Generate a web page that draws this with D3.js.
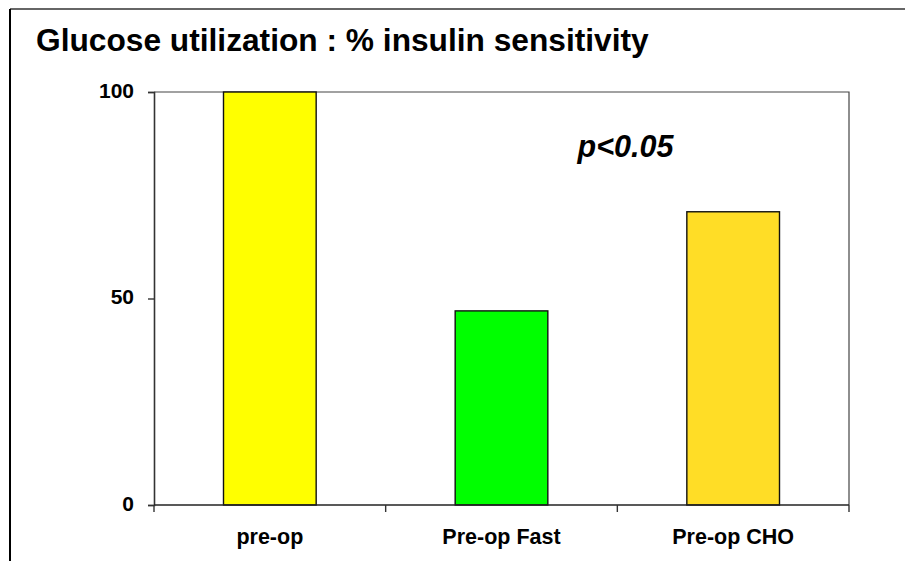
<!DOCTYPE html>
<html>
<head>
<meta charset="utf-8">
<script src="https://cdn.jsdelivr.net/npm/d3@7"></script>
<style>
  html, body { margin: 0; padding: 0; background: #fff; }
  svg { display: block; font-family: Arial, "Liberation Sans", sans-serif; }
</style>
</head>
<body>
<svg id="chart" width="905" height="561"></svg>
<script>
// Glucose utilization as % of pre-operative insulin sensitivity
const categories = ["pre-op", "Pre-op Fast", "Pre-op CHO"];
const values = [100, 47, 71];
const barColors = ["#FFFF00", "#00FF00", "#FFDD26"];
const yTicks = [0, 50, 100];
const titleText = "Glucose utilization : % insulin sensitivity";
const noteText = "p<0.05";

const svg = d3.select("#chart");
const plot = { left: 154, top: 92, right: 849, bottom: 505 };

// outer frame (only top and left edges fall inside the page)
svg.append("line").attr("x1", 10).attr("y1", 9).attr("x2", 905).attr("y2", 9)
  .attr("stroke", "#333").attr("stroke-width", 1.6);
svg.append("line").attr("x1", 10).attr("y1", 9).attr("x2", 10).attr("y2", 561)
  .attr("stroke", "#000").attr("stroke-width", 2);

svg.append("text").attr("x", 36).attr("y", 51)
  .attr("font-size", 31.7).attr("font-weight", "bold").attr("fill", "#000")
  .text(titleText);

const x = d3.scaleBand().domain(categories).range([plot.left, plot.right]).paddingInner(0).paddingOuter(0);
const y = d3.scaleLinear().domain([0, 100]).range([plot.bottom, plot.top]);

// plot area border (top and right)
svg.append("path")
  .attr("d", `M${plot.left},${plot.top}H${plot.right}V${plot.bottom}`)
  .attr("fill", "none").attr("stroke", "#444").attr("stroke-width", 1.2);

// bars
const barW = x.bandwidth() * 0.4;
svg.selectAll("rect.bar").data(categories).enter().append("rect")
  .attr("class", "bar")
  .attr("x", d => x(d) + (x.bandwidth() - barW) / 2)
  .attr("y", (d, i) => y(values[i]))
  .attr("width", barW)
  .attr("height", (d, i) => y(0) - y(values[i]))
  .attr("fill", (d, i) => barColors[i])
  .attr("stroke", "#111").attr("stroke-width", 1.4);

// y axis
const yAxis = svg.append("g").attr("transform", `translate(${plot.left},0)`)
  .call(d3.axisLeft(y).tickValues(yTicks).tickSize(6).tickPadding(14).tickFormat(d3.format("d")));
yAxis.select(".domain").attr("stroke", "#333").attr("stroke-width", 1.6);
yAxis.selectAll(".tick line").attr("stroke", "#333").attr("stroke-width", 1.4);
yAxis.selectAll(".tick text")
  .attr("font-size", 21).attr("font-weight", "bold")
  .attr("fill", "#000").attr("font-family", "Arial, 'Liberation Sans', sans-serif")
  .attr("dy", "0.24em");

// x axis with ticks at category boundaries
const xAxisG = svg.append("g").attr("transform", `translate(0,${plot.bottom})`);
xAxisG.append("line").attr("x1", plot.left).attr("x2", plot.right)
  .attr("stroke", "#222").attr("stroke-width", 1.6);
const boundaries = categories.map(c => x(c)).concat([plot.right]);
xAxisG.selectAll("line.tick").data(boundaries).enter().append("line")
  .attr("class", "tick")
  .attr("x1", d => d).attr("x2", d => d).attr("y1", 0).attr("y2", 7)
  .attr("stroke", "#333").attr("stroke-width", 1.4);
xAxisG.selectAll("text").data(categories).enter().append("text")
  .attr("x", d => x(d) + x.bandwidth() / 2)
  .attr("y", 38.5)
  .attr("text-anchor", "middle")
  .attr("font-size", 21.5).attr("font-weight", "bold").attr("fill", "#000")
  .text(d => d);

// significance note
svg.append("text").attr("x", 625.5).attr("y", 157)
  .attr("text-anchor", "middle")
  .attr("font-size", 30.5).attr("font-weight", "bold").attr("font-style", "italic")
  .attr("fill", "#000")
  .text(noteText);
</script>
</body>
</html>
